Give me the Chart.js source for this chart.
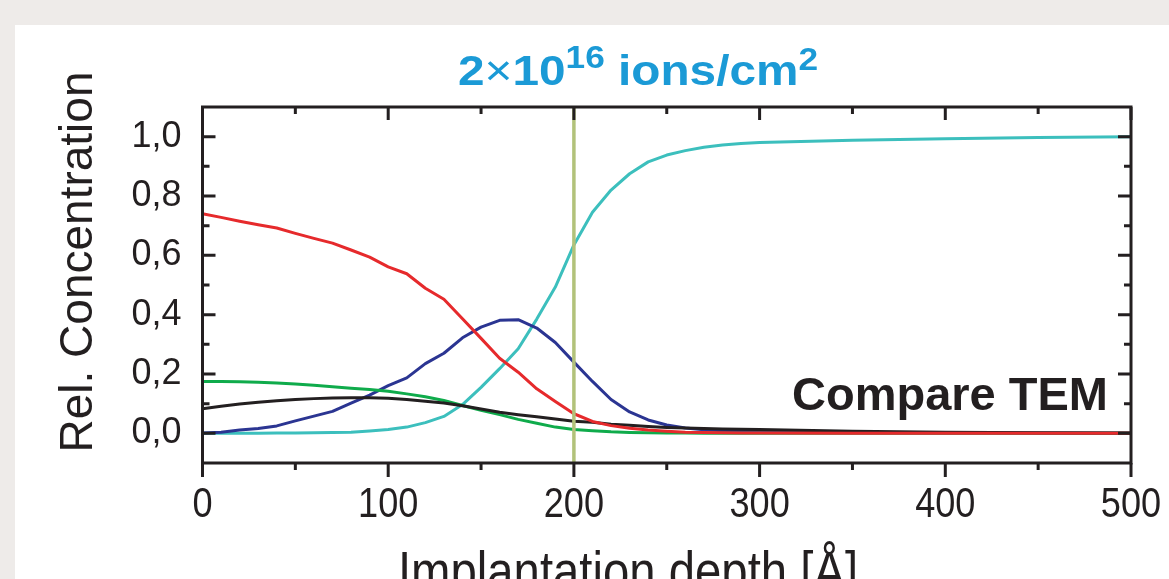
<!DOCTYPE html>
<html>
<head>
<meta charset="utf-8">
<script src="https://cdn.jsdelivr.net/npm/chart.js@4.4.0/dist/chart.umd.min.js"></script>
<style>
html, body { margin: 0; padding: 0; background: #eeebe9; }
#wrap { width: 1169px; height: 579px; }
</style>
</head>
<body>
<div id="wrap"><canvas id="profileChart"></canvas></div>
<script>
// depth in Angstrom, concentrations
const depth = [0, 10, 20, 30, 40, 50, 60, 70, 80, 90, 100, 110, 120, 130, 140, 150, 160, 170, 180, 190,
               200, 210, 220, 230, 240, 250, 260, 270, 280, 290, 300, 350, 400, 450, 500];

const redConc = [0.740, 0.728, 0.715, 0.703, 0.692, 0.674, 0.657, 0.641, 0.618, 0.594, 0.561, 0.538, 0.489, 0.452, 0.386,
                 0.320, 0.253, 0.206, 0.150, 0.107, 0.066, 0.040, 0.026, 0.017, 0.011, 0.007, 0.004, 0.003, 0.002, 0.001,
                 0.001, 0.000, 0.000, 0.000, 0.000];
const blackConc = [0.083, 0.091, 0.099, 0.105, 0.110, 0.114, 0.117, 0.119, 0.120, 0.120, 0.118, 0.114, 0.108, 0.102, 0.093,
                   0.082, 0.071, 0.063, 0.056, 0.048, 0.041, 0.037, 0.031, 0.027, 0.023, 0.020, 0.018, 0.016, 0.015, 0.014,
                   0.013, 0.007, 0.004, 0.002, 0.001];
const greenConc = [0.175, 0.175, 0.174, 0.172, 0.170, 0.166, 0.162, 0.157, 0.152, 0.148, 0.142, 0.133, 0.123, 0.111, 0.094,
                   0.078, 0.063, 0.047, 0.034, 0.021, 0.013, 0.009, 0.005, 0.003, 0.002, 0.001, 0.001, 0.000, 0.000, 0.000,
                   0.000, 0.000, 0.000, 0.000, 0.000];
const blueConc = [0.001, 0.004, 0.011, 0.016, 0.025, 0.042, 0.058, 0.074, 0.102, 0.129, 0.161, 0.187, 0.235, 0.270, 0.322,
                  0.358, 0.381, 0.383, 0.355, 0.306, 0.240, 0.175, 0.114, 0.072, 0.045, 0.028, 0.018, 0.012, 0.009, 0.007,
                  0.006, 0.003, 0.001, 0.001, 0.000];
const cyanConc = [0.000, 0.000, 0.000, 0.000, 0.001, 0.001, 0.002, 0.003, 0.004, 0.008, 0.013, 0.021, 0.036, 0.057, 0.097,
                  0.155, 0.218, 0.285, 0.385, 0.493, 0.635, 0.745, 0.820, 0.875, 0.915, 0.938, 0.953, 0.964, 0.972, 0.977,
                  0.980, 0.988, 0.993, 0.997, 1.000];

// vertical marker at 200 A
const markerDepth = [200, 200];
const markerConc = [-0.1, 1.1];

const xTicks = [0, 100, 200, 300, 400, 500];
const xMinor = [50, 150, 250, 350, 450];
const yTicks = [0.0, 0.2, 0.4, 0.6, 0.8, 1.0];
const yMinor = [0.1, 0.3, 0.5, 0.7, 0.9];

const ink = '#231f20';
const sans = '"Liberation Sans", Arial, sans-serif';

function pts(xs, ys) {
    return xs.map((x, i) => ({ x: x, y: ys[i] }));
}

const lines = [
    { label: 'red', values: redConc, color: '#e62a2c' },
    { label: 'black', values: blackConc, color: '#231f20' },
    { label: 'green', values: greenConc, color: '#0fab4b' },
    { label: 'blue', values: blueConc, color: '#2b3592' },
    { label: 'cyan', values: cyanConc, color: '#3cbfbd' }
];

const datasets = [{
    label: 'marker',
    data: pts(markerDepth, markerConc),
    borderColor: '#b2c27a',
    borderWidth: 3.5,
    pointRadius: 0,
    order: 0
}].concat(lines.map((s, i) => ({
    label: s.label,
    data: pts(depth, s.values),
    borderColor: s.color,
    borderWidth: 3,
    pointRadius: 0,
    tension: 0,
    borderJoinStyle: 'round',
    order: i + 1
})));

// narrow text: Arial-like face squeezed horizontally
function squeezed(c, text, x, y, font, k) {
    c.save();
    c.font = font;
    c.translate(x, y);
    c.scale(k, 1);
    c.fillText(text, 0, 0);
    c.restore();
}

const decor = {
    id: 'decor',
    beforeDraw(chart) {
        const c = chart.ctx;
        c.save();
        c.fillStyle = '#eeebe9';
        c.fillRect(0, 0, chart.width, chart.height);
        c.fillStyle = '#ffffff';
        c.fillRect(15, 25, chart.width - 15, chart.height - 25);
        c.restore();
    },
    afterDraw(chart) {
        const c = chart.ctx, a = chart.chartArea;
        const sx = chart.scales.x, sy = chart.scales.y;
        c.save();
        c.strokeStyle = ink;
        c.lineWidth = 3;
        c.strokeRect(a.left, a.top, a.right - a.left, a.bottom - a.top);

        c.beginPath();
        const xMark = (v, up, down) => {
            const px = sx.getPixelForValue(v);
            c.moveTo(px, a.bottom); c.lineTo(px, a.bottom + down);
            c.moveTo(px, a.top); c.lineTo(px, a.top + up);
        };
        const yMark = (v, len) => {
            const py = sy.getPixelForValue(v);
            c.moveTo(a.left, py); c.lineTo(a.left + len, py);
            c.moveTo(a.right, py); c.lineTo(a.right - len, py);
        };
        xTicks.forEach(v => xMark(v, 13, 14));
        xMinor.forEach(v => xMark(v, 7, 7));
        yTicks.forEach(v => yMark(v, 13));
        yMinor.forEach(v => yMark(v, 7));
        c.stroke();

        // x tick labels (condensed)
        c.fillStyle = ink;
        c.textAlign = 'center';
        c.textBaseline = 'alphabetic';
        xTicks.forEach(v => squeezed(c, String(v), sx.getPixelForValue(v), a.bottom + 54, '42px ' + sans, 0.86));

        // title with superscripts
        const parts = [
            { t: '2', f: 'bold 42px ' + sans, dy: 0 },
            { t: '\u00d7', f: '42px ' + sans, dy: 0 },
            { t: '10', f: 'bold 42px ' + sans, dy: 0 },
            { t: '16', f: 'bold 31px ' + sans, dy: -17 },
            { t: ' ions/cm', f: 'bold 42px ' + sans, dy: 0 },
            { t: '2', f: 'bold 31px ' + sans, dy: -15 }
        ];
        let total = 0;
        parts.forEach(p => { c.font = p.f; p.w = c.measureText(p.t).width; total += p.w; });
        const stretch = 360 / total;
        c.save();
        c.translate(638 - 180, 85);
        c.scale(stretch, 1);
        c.fillStyle = '#1b9ad6';
        c.textAlign = 'left';
        let cx = 0;
        parts.forEach(p => { c.font = p.f; c.fillText(p.t, cx, p.dy); cx += p.w; });
        c.restore();

        // axis titles
        c.textAlign = 'center';
        c.font = '46px ' + sans;
        c.save();
        c.translate(92, 262);
        c.rotate(-Math.PI / 2);
        c.fillText('Rel. Concentration', 0, 0);
        c.restore();

        squeezed(c, 'Implantation depth [\u00c5]', 628, 590, '55px ' + sans, 0.86);

        c.font = 'bold 47px ' + sans;
        c.textAlign = 'right';
        c.fillText('Compare TEM', a.right - 23, 410);
        c.restore();
    }
};

new Chart(document.getElementById('profileChart'), {
    type: 'line',
    data: { datasets: datasets },
    options: {
        responsive: true,
        maintainAspectRatio: false,
        animation: false,
        layout: { padding: { left: 52.5, right: 38, top: 107, bottom: 36 } },
        plugins: {
            legend: { display: false },
            title: { display: false },
            tooltip: { enabled: false }
        },
        scales: {
            x: {
                type: 'linear',
                min: 0,
                max: 500,
                grid: { display: false },
                border: { display: false },
                afterBuildTicks: s => { s.ticks = xTicks.map(v => ({ value: v })); },
                afterFit: s => { s.height = 80; s.paddingLeft = 0; s.paddingRight = 0; },
                ticks: { display: false }
            },
            y: {
                min: -0.1,
                max: 1.1,
                grid: { display: false },
                border: { display: false },
                afterBuildTicks: s => { s.ticks = yTicks.map(v => ({ value: v })); },
                afterFit: s => { s.width = 150; s.paddingTop = 0; s.paddingBottom = 0; },
                ticks: {
                    padding: 13,
                    color: ink,
                    font: { family: sans, size: 36 },
                    callback: v => v.toFixed(1).replace('.', ',')
                }
            }
        }
    },
    plugins: [decor]
});
</script>
</body>
</html>
